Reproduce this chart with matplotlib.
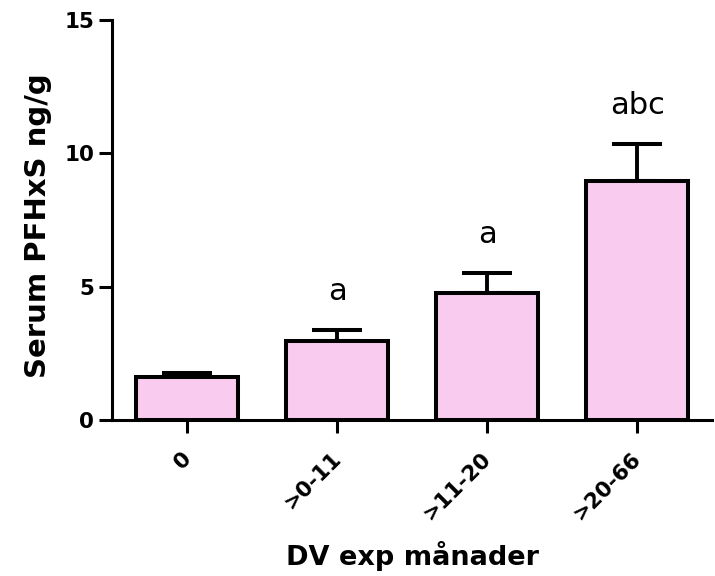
import matplotlib
matplotlib.use("Agg")
import matplotlib.pyplot as plt
from matplotlib.transforms import ScaledTranslation

categories = ["0", ">0-11", ">11-20", ">20-66"]
means = [1.6, 2.95, 4.75, 8.95]
sems = [0.17, 0.42, 0.75, 1.42]
sig_labels = ["", "a", "a", "abc"]
yticks = [0, 5, 10, 15]

plt.rcParams['font.family'] = ['DejaVu Sans']

fig = plt.figure(figsize=(7.15, 5.76), dpi=100)
ax = fig.add_axes([0.157, 0.271, 0.839, 0.694])

x = list(range(len(categories)))
ax.bar(x, means, width=0.68, color='#F9CBEE', edgecolor='black', linewidth=2.9, zorder=3)
ax.errorbar(x, means, yerr=[[0]*len(sems), sems], fmt='none', ecolor='black',
            elinewidth=2.8, capsize=18, capthick=2.9, zorder=2)
for xi, m, s, lab in zip(x, means, sems, sig_labels):
    if lab:
        ax.text(xi, m + s + 1.12, lab, ha='center', va='baseline', fontsize=22)

ax.set_xlim(-0.5, 3.5)
ax.set_ylim(0, 15)
ax.set_yticks(yticks)
ax.set_xticks(x)
ax.spines['top'].set_visible(False)
ax.spines['right'].set_visible(False)
ax.spines['left'].set_linewidth(2.2)
ax.spines['bottom'].set_linewidth(2.2)
ax.tick_params(axis='both', width=2.2, length=9.5, color='black')
ax.tick_params(axis='x', pad=11)
ax.tick_params(axis='y', pad=3.5)
ax.set_xticklabels(categories, rotation=45, ha='right', va='top', rotation_mode='anchor',
                   fontsize=15.5, fontweight='bold')
off = ScaledTranslation(-0.06, 0, fig.dpi_scale_trans)
for lbl in ax.get_xticklabels():
    lbl.set_transform(lbl.get_transform() + off)
for lbl in ax.get_yticklabels():
    lbl.set_fontsize(15.5)
    lbl.set_fontweight('bold')
ax.set_ylabel("Serum PFHxS ng/g", fontsize=21, fontweight='bold')
ax.yaxis.set_label_coords(-0.1, 0.485)
ax.set_xlabel("DV exp månader", fontsize=19.5, fontweight='bold', va='top')
ax.xaxis.set_label_coords(0.5, -0.3025)

fig.savefig("out.png", dpi=100)
